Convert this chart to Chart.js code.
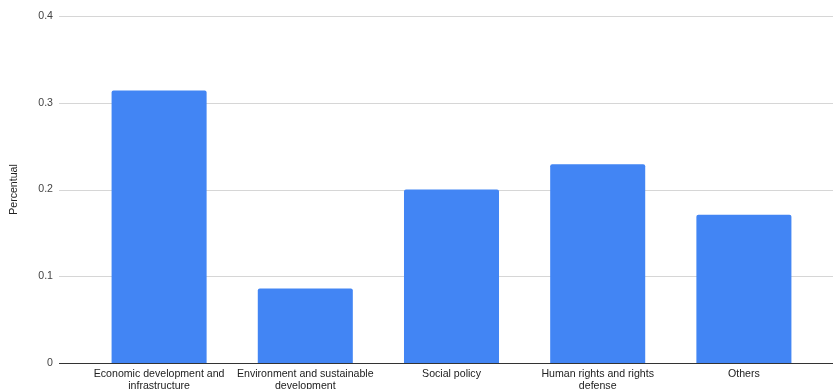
<!DOCTYPE html>
<html>
<head>
<meta charset="utf-8">
<script src="https://cdn.jsdelivr.net/npm/chart.js@4"></script>
<style>
  html, body { margin: 0; padding: 0; background: #fff; }
</style>
</head>
<body>
<canvas id="chart" width="833" height="389"></canvas>
<script>
const categories = [
    ["Economic development and", "infrastructure"],
    ["Environment and sustainable", "development"],
    "Social policy",
    ["Human rights and rights", "defense"],
    "Others"
];
const percentValues = [0.314, 0.086, 0.2, 0.229, 0.171];
const yTicks = [0, 0.1, 0.2, 0.3, 0.4];
const yTitle = "Percentual";

// grid lines here run wider than the bar area, so draw them ourselves
const wideGrid = {
    id: "wideGrid",
    beforeDatasetsDraw(chart) {
        const ctx = chart.ctx;
        const y = chart.scales.y;
        ctx.save();
        ctx.lineWidth = 1;
        ctx.strokeStyle = "#d6d6d6";
        yTicks.forEach((v) => {
            if (v === 0) return;
            const py = Math.round(y.getPixelForValue(v)) + 0.5;
            ctx.beginPath();
            ctx.moveTo(59, py);
            ctx.lineTo(chart.width, py);
            ctx.stroke();
        });
        ctx.restore();
    },
    afterDatasetsDraw(chart) {
        const ctx = chart.ctx;
        const py = Math.round(chart.scales.y.getPixelForValue(0)) + 0.5;
        ctx.save();
        ctx.lineWidth = 1;
        ctx.strokeStyle = "#333333";
        ctx.beginPath();
        ctx.moveTo(59, py);
        ctx.lineTo(chart.width, py);
        ctx.stroke();
        ctx.restore();
    }
};

const ctx = document.getElementById("chart").getContext("2d");
new Chart(ctx, {
    type: "bar",
    data: {
        labels: categories,
        datasets: [{
            label: yTitle,
            data: percentValues,
            backgroundColor: "#4285F4",
            borderRadius: { topLeft: 2, topRight: 2 },
            borderSkipped: "bottom",
            categoryPercentage: 1,
            barPercentage: 0.65
        }]
    },
    options: {
        responsive: false,
        animation: false,
        layout: { padding: { top: 16, right: 16, left: 0, bottom: 0 } },
        plugins: {
            legend: { display: false },
            tooltip: { enabled: false }
        },
        scales: {
            x: {
                grid: { display: false, drawTicks: false },
                border: { display: false },
                ticks: {
                    color: "#222",
                    font: { family: "'Liberation Sans', Arial, sans-serif", size: 10.6, lineHeight: 1.15 },
                    padding: 5,
                    maxRotation: 0,
                    autoSkip: false
                },
                afterFit(scale) { scale.height = 26; }
            },
            y: {
                min: 0,
                max: 0.4,
                afterBuildTicks(scale) {
                    scale.ticks = yTicks.map((v) => ({ value: v }));
                },
                grid: { display: false, drawTicks: true, tickLength: 27 },
                border: { display: false },
                ticks: {
                    color: "#444",
                    font: { family: "'Liberation Sans', Arial, sans-serif", size: 10.6 },
                    padding: 6,
                    callback: (v) => String(v)
                },
                title: {
                    display: true,
                    text: yTitle,
                    color: "#222",
                    font: { family: "'Liberation Sans', Arial, sans-serif", size: 10.6 },
                    padding: { top: 8, bottom: 0 }
                },
                afterFit(scale) { scale.width = 86; }
            }
        }
    },
    plugins: [wideGrid]
});
</script>
</body>
</html>
